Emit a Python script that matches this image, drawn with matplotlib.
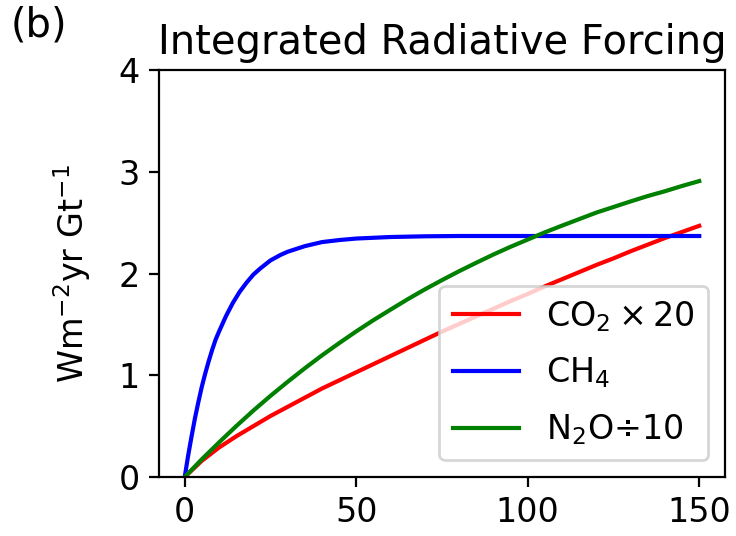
import matplotlib
matplotlib.use('Agg')
import matplotlib.pyplot as plt

plt.rcParams['font.size'] = 12

# values (time in years)
t_ch4 = [0, 1, 2, 3, 4, 5, 6, 7, 8, 9, 10, 12, 14, 16, 18, 20, 22, 25, 28, 30,
         35, 40, 45, 50, 60, 70, 80, 100, 125, 150]
ch4 = [0, 0.21, 0.40, 0.58, 0.74, 0.89, 1.02, 1.14, 1.25, 1.35, 1.43, 1.58, 1.71,
       1.82, 1.91, 1.99, 2.05, 2.13, 2.185, 2.215, 2.27, 2.31, 2.33, 2.345, 2.36,
       2.367, 2.37, 2.37, 2.37, 2.37]

t_slow = [0, 5, 10, 15, 20, 25, 30, 35, 40, 45, 50, 55, 60, 65, 70, 75, 80, 85,
          90, 95, 100, 105, 110, 115, 120, 125, 130, 135, 140, 145, 150]
co2_x20 = [0, 0.16, 0.29, 0.40, 0.50, 0.60, 0.69, 0.78, 0.87, 0.95, 1.03, 1.11,
           1.19, 1.27, 1.35, 1.43, 1.505, 1.58, 1.655, 1.73, 1.80, 1.875, 1.945,
           2.015, 2.085, 2.15, 2.22, 2.285, 2.35, 2.41, 2.47]
n2o_div10 = [0, 0.175, 0.34, 0.50, 0.653, 0.798, 0.936, 1.069, 1.196, 1.316, 1.432,
             1.542, 1.646, 1.748, 1.845, 1.936, 2.024, 2.107, 2.188, 2.264, 2.335,
             2.406, 2.472, 2.536, 2.60, 2.655, 2.71, 2.763, 2.81, 2.862, 2.91]

fig = plt.figure(figsize=(3.68, 2.68), dpi=200)
ax = fig.add_axes([0.216, 0.110, 0.769, 0.759])

ax.plot(t_slow, co2_x20, color='r', label=r'CO$_2\times20$')
ax.plot(t_ch4, ch4, color='b', label=r'CH$_4$')
ax.plot(t_slow, n2o_div10, color='g', label=r'N$_2$O÷10')

ax.set_ylim(0, 4)
ax.set_yticks([0, 1, 2, 3, 4])
ax.set_xticks([0, 50, 100, 150])
ax.set_ylabel(r'Wm$^{-2}$yr Gt$^{-1}$', labelpad=9)
ax.set_title('Integrated Radiative Forcing', fontsize='large')
ax.legend(loc='lower right', labelspacing=0.66)

fig.text(0.015, 0.99, '(b)', fontsize='large', va='top', ha='left')

fig.savefig('out.png', dpi=200)
